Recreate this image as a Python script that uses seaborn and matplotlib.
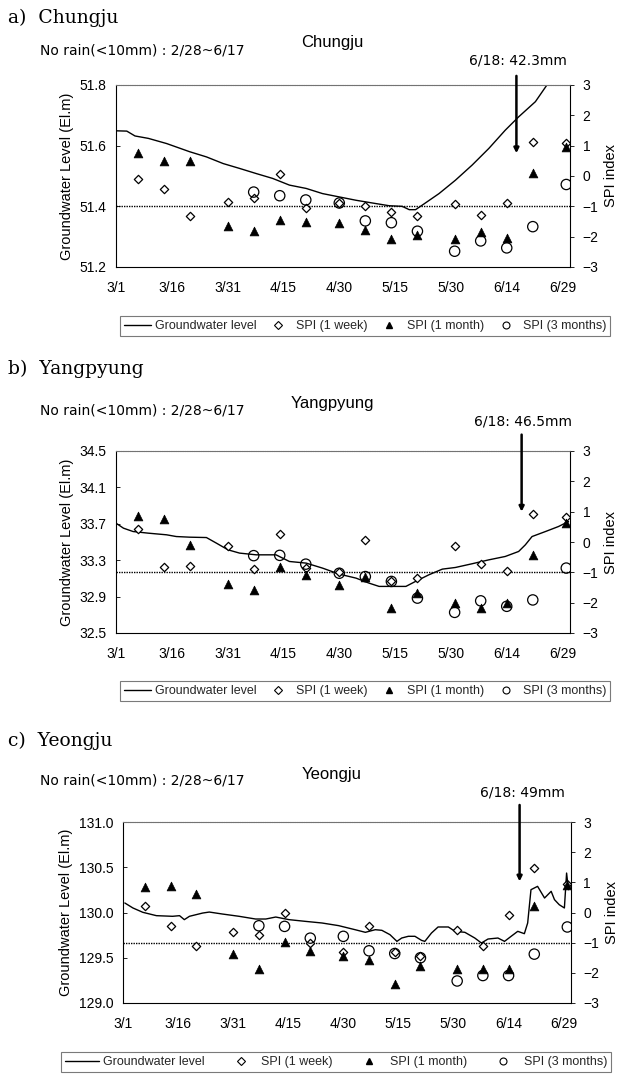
import numpy as np
import pandas as pd
import matplotlib
matplotlib.use("Agg")
import matplotlib.pyplot as plt
import seaborn as sns
from matplotlib.lines import Line2D

# ---------------- data ----------------
spi_dates = ["3/7", "3/14", "3/21", "3/31", "4/7", "4/14", "4/21", "4/30",
             "5/7", "5/14", "5/21", "5/31", "6/7", "6/14", "6/21", "6/30"]
tick_days = [0, 15, 30, 45, 60, 75, 90, 105, 120]
tick_labels = ["3/1", "3/16", "3/31", "4/15", "4/30", "5/15", "5/30", "6/14", "6/29"]
nan = np.nan

# Chungju groundwater level (days since 3/1, El.m)
gw_a_day = [0, 2.9, 5.1, 8.7, 13.6, 19.8, 24.3, 28.8, 33.2, 37.7, 42.1, 46.6, 51.1, 55.5, 60,
            64.5, 68.9, 73.4, 76.9, 78.8, 80.5, 82.3, 86.8, 91.2, 95.7, 100.2, 104.6, 108.2,
            112.7, 115.8, 118]
gw_a_lvl = [51.649, 51.648, 51.632, 51.624, 51.607, 51.580, 51.563, 51.541, 51.525, 51.508,
            51.492, 51.470, 51.459, 51.442, 51.431, 51.420, 51.411, 51.402, 51.400, 51.389,
            51.389, 51.404, 51.442, 51.486, 51.536, 51.591, 51.651, 51.695, 51.745, 51.800, 51.83]
a_w1 = [-0.11, -0.42, -1.33, -0.87, -0.73, 0.06, -1.06, -0.90, -0.99, -1.19, -1.31, -0.91, -1.27, -0.88, 1.13, 1.10]
a_m1 = [0.76, 0.50, 0.50, -1.65, -1.82, -1.46, -1.51, -1.54, -1.77, -2.09, -1.93, -2.09, -1.84, -2.04, 0.10, 0.94]
a_m3 = [nan, nan, nan, nan, -0.53, -0.65, -0.79, -0.89, -1.48, -1.54, -1.82, -2.48, -2.14, -2.37, -1.67, -0.28]

# Yangpyung
gw_b_day = [0, 2.0, 4.6, 8.7, 13.6, 16.2, 19.8, 24.3, 27.0, 30.1, 33.2, 37.7, 43.0, 46.6, 51.1,
            55.5, 60.0, 64.5, 68.0, 70.7, 74.3, 77.9, 80.5, 84.1, 87.7, 91.2, 95.7, 100.2, 104.6,
            108.2, 110.0, 111.8, 115.4, 118.9, 121.6]
gw_b_lvl = [33.707, 33.652, 33.615, 33.597, 33.579, 33.560, 33.553, 33.549, 33.487, 33.414,
            33.378, 33.359, 33.359, 33.286, 33.268, 33.213, 33.147, 33.103, 33.048, 33.012,
            33.012, 33.012, 33.067, 33.140, 33.202, 33.220, 33.261, 33.304, 33.341, 33.396,
            33.469, 33.560, 33.615, 33.670, 33.725]
b_w1 = [0.43, -0.82, -0.79, -0.13, -0.90, 0.25, -0.85, -1.0, 0.07, -1.3, -1.19, -0.12, -0.72, -0.97, 0.92, 0.81]
b_m1 = [0.86, 0.75, -0.10, -1.38, -1.58, -0.84, -1.08, -1.41, -1.14, -2.18, -1.68, -2.01, -2.18, -2.01, -0.43, 0.62]
b_m3 = [nan, nan, nan, nan, -0.45, -0.44, -0.73, -1.03, -1.14, -1.30, -1.85, -2.32, -1.94, -2.12, -1.91, -0.86]

# Yeongju
gw_c_day = [0.5, 2.7, 5.4, 9.1, 13.5, 15.4, 16.7, 18.1, 21.7, 23.5, 27.1, 31.6, 36.1, 38.9, 41.6,
            45.2, 49.7, 54.2, 58.7, 63.2, 66.0, 68.7, 70.5, 72.7, 74.6, 75.9, 77.7, 79.5, 81.3,
            82.2, 84.0, 85.8, 88.6, 90.4, 93.1, 95.8, 97.6, 99.4, 102.1, 103.9, 105.7, 107.5,
            109.3, 110.2, 111.1, 112.9, 114.8, 116.6, 117.5, 118.8, 120.2, 120.8, 121.3]
gw_c_lvl = [130.105, 130.050, 130.002, 129.965, 129.958, 129.965, 129.921, 129.958, 129.994,
            130.005, 129.983, 129.958, 129.928, 129.928, 129.950, 129.921, 129.902, 129.884,
            129.855, 129.810, 129.781, 129.810, 129.803, 129.755, 129.681, 129.718, 129.737,
            129.737, 129.692, 129.681, 129.773, 129.840, 129.840, 129.792, 129.781, 129.718,
            129.663, 129.707, 129.718, 129.681, 129.737, 129.792, 129.766, 129.884, 130.252,
            130.289, 130.160, 130.234, 130.142, 130.086, 130.050, 130.436, 130.252]
c_w1 = [0.20, -0.46, -1.12, -0.66, -0.73, -0.02, -1.0, -1.3, -0.46, -1.32, -1.45, -0.59, -1.10, -0.08, 1.46, 0.95]
c_m1 = [0.83, 0.87, 0.62, -1.37, -1.86, -0.99, -1.28, -1.45, -1.56, -2.36, -1.78, -1.86, -1.86, -1.86, 0.22, 0.92]
c_m3 = [nan, nan, nan, nan, -0.44, -0.46, -0.85, -0.79, -1.27, -1.36, -1.50, -2.27, -2.09, -2.09, -1.38, -0.48]

# ---------------- style ----------------
sns.set_theme(style="white")
plt.rcParams['font.family'] = ['Liberation Sans', 'DejaVu Sans']
plt.rcParams['axes.linewidth'] = 0.8

W, H = 624, 1079
fig = plt.figure(figsize=(W / 100, H / 100), dpi=100)


def fx(x):
    return x / W


def fy(y):
    return 1 - y / H


start = pd.Timestamp("2001-03-01")
spi_day = [(pd.to_datetime("2001/" + d, format="%Y/%m/%d") - start).days for d in spi_dates]


def panel(rect, gw_day, gw_lvl, ylim, yticks, yfmt, w1, m1, m3,
          letter, letter_y, title, title_y, rain_y, note, note_xy,
          arrow_day, arrow_tip, arrow_top, legend_xy, leg_colsp, leg_hlen):
    l, t, r, b = rect
    ax = fig.add_axes([fx(l), fy(b), (r - l) / W, (b - t) / H])
    sns.lineplot(x=gw_day, y=gw_lvl, ax=ax, color="black", lw=1.0)
    ax.set_xlim(0, 122)
    ax.set_ylim(*ylim)
    ax.set_yticks(yticks)
    ax.set_yticklabels([yfmt.format(v) for v in yticks])
    ax.set_xticks(tick_days)
    ax.set_xticklabels(tick_labels)
    ax.tick_params(axis="both", direction="in", length=3, width=0.6, labelsize=10,
                   colors="black", pad=7)
    ax.tick_params(axis="x", pad=10)
    ax.set_ylabel("Groundwater Level (El.m)", fontsize=10.5, color="black", labelpad=4)
    ax.set_xlabel("")
    for s in ["left", "bottom"]:
        ax.spines[s].set_color("black")
    ax.spines["top"].set_color("0.45")
    ax.spines["top"].set_linestyle((0, (1, 0.6)))
    ax.spines["right"].set_color("black")

    ax2 = ax.twinx()
    ax2.set_ylim(-3, 3)
    ax2.set_yticks([-3, -2, -1, 0, 1, 2, 3])
    ax2.axhline(-1, color="black", ls=(0, (1, 0.8)), lw=1.0, zorder=1)
    sns.scatterplot(x=spi_day, y=w1, ax=ax2, marker="D", s=18, facecolor="white",
                    edgecolor="black", linewidth=0.9, zorder=3)
    sns.scatterplot(x=spi_day, y=m1, ax=ax2, marker="^", s=40, color="black",
                    edgecolor="black", linewidth=0.5, zorder=4)
    sns.scatterplot(x=spi_day, y=m3, ax=ax2, marker="o", s=55, facecolor="none",
                    edgecolor="black", linewidth=0.9, zorder=5)
    ax2.set_ylabel("SPI index", fontsize=10.5, color="black", labelpad=4)
    ax2.tick_params(axis="y", direction="out", length=3, width=0.6, labelsize=10,
                    colors="black", pad=6)
    for s in ax2.spines.values():
        s.set_visible(False)

    ax2.annotate("", xy=(arrow_day, arrow_tip), xycoords="data",
                 xytext=(arrow_day, arrow_top), textcoords=ax2.get_xaxis_transform(),
                 arrowprops=dict(arrowstyle="-|>", lw=1.8, color="black",
                                 mutation_scale=7, shrinkA=0, shrinkB=0),
                 annotation_clip=False)

    fig.text(fx(8), fy(letter_y), letter, family="DejaVu Serif", fontsize=13.5,
             va="center", ha="left", color="black")
    fig.text(fx(332), fy(title_y), title, fontsize=12, va="center", ha="center", color="black")
    fig.text(fx(40), fy(rain_y), "No rain(<10mm) : 2/28~6/17", family="DejaVu Sans",
             fontsize=10, va="center", ha="left", color="black")
    fig.text(fx(note_xy[0]), fy(note_xy[1]), note, family="DejaVu Sans", fontsize=10,
             va="center", ha="right", color="black")

    handles = [
        Line2D([], [], color="black", lw=1.0),
        Line2D([], [], marker="D", ls="none", ms=3.6, mfc="white", mec="black", mew=0.8),
        Line2D([], [], marker="^", ls="none", ms=5, mfc="black", mec="black"),
        Line2D([], [], marker="o", ls="none", ms=5, mfc="none", mec="black", mew=0.8),
    ]
    labels = ["Groundwater level", "SPI (1 week)", "SPI (1 month)", "SPI (3 months)"]
    leg = fig.legend(handles, labels, loc="center", ncol=4,
                     bbox_to_anchor=(fx(legend_xy[0]), fy(legend_xy[1])),
                     frameon=True, fancybox=False, fontsize=9, handlelength=leg_hlen,
                     handletextpad=0.3, columnspacing=leg_colsp, borderpad=0.3,
                     borderaxespad=0)
    leg.get_frame().set_edgecolor("0.35")
    leg.get_frame().set_linewidth(0.8)
    return ax, ax2


panel((116, 85, 570, 267), gw_a_day, gw_a_lvl, (51.2, 51.8), [51.2, 51.4, 51.6, 51.8], "{:.1f}",
      a_w1, a_m1, a_m3, "a)  Chungju", 18, "Chungju", 42, 51, "6/18: 42.3mm", (567, 60),
      107.6, 0.75, 1.05, (365, 326), 0.65, 2.2)
panel((116, 451, 570, 633), gw_b_day, gw_b_lvl, (32.5, 34.5), [32.5, 32.9, 33.3, 33.7, 34.1, 34.5], "{:.1f}",
      b_w1, b_m1, b_m3, "b)  Yangpyung", 369, "Yangpyung", 404, 411, "6/18: 46.5mm", (572, 421),
      109, 1.0, 1.09, (365, 691), 0.65, 2.2)
panel((123, 822, 571, 1003), gw_c_day, gw_c_lvl, (129.0, 131.0), [129.0, 129.5, 130.0, 130.5, 131.0], "{:.1f}",
      c_w1, c_m1, c_m3, "c)  Yeongju", 741, "Yeongju", 775, 781, "6/18: 49mm", (565, 793),
      108, 1.03, 1.094, (336, 1062), 1.55, 2.7)

fig.savefig("out.png", dpi=100)
